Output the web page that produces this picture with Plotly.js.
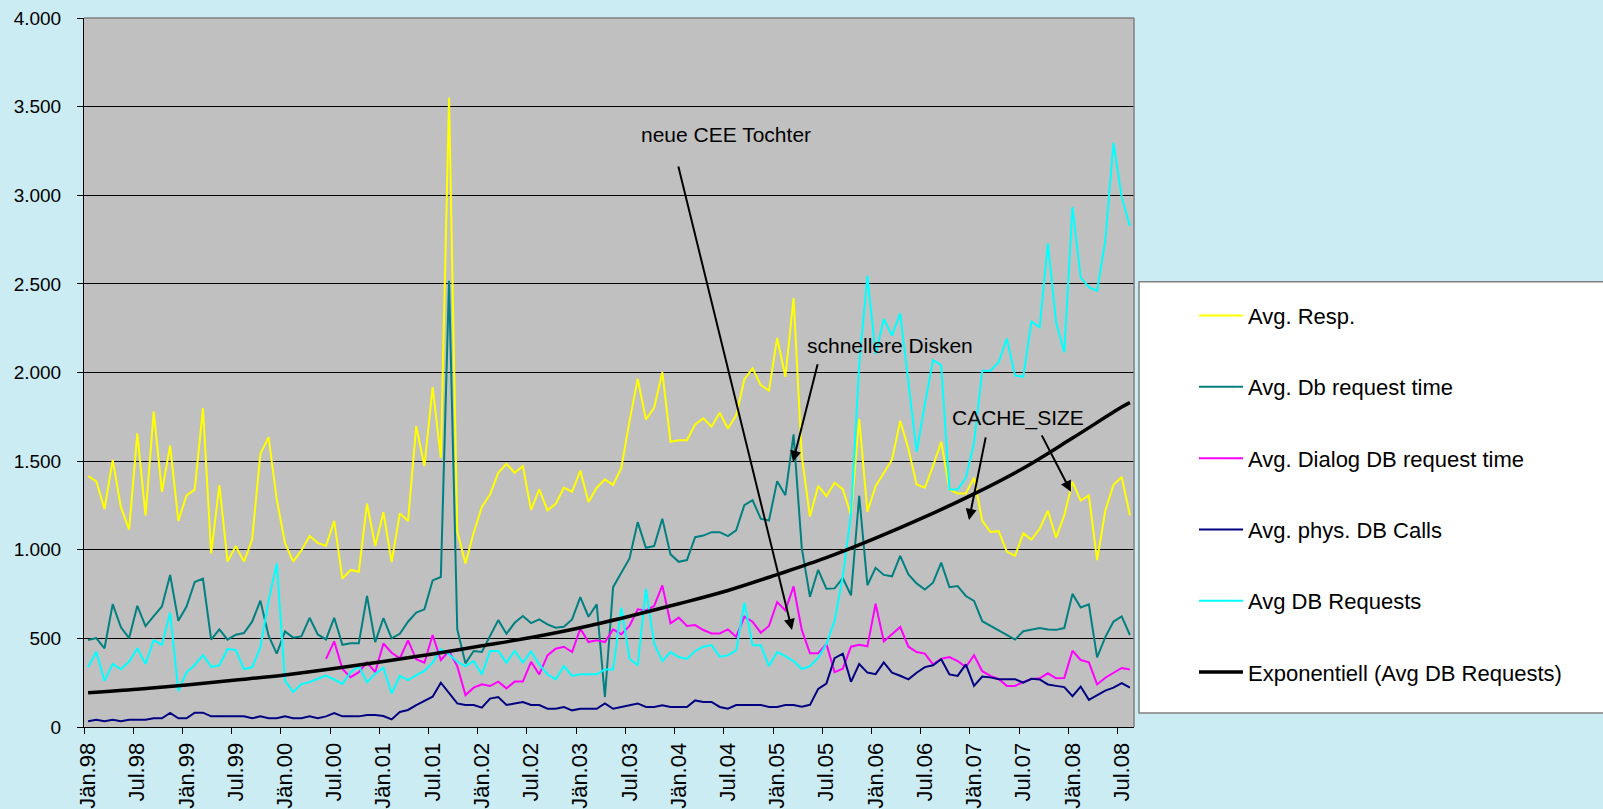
<!DOCTYPE html>
<html><head><meta charset="utf-8">
<script src="https://cdn.plot.ly/plotly-3.0.1.min.js"></script>
<style>html,body{margin:0;padding:0;background:#CCECF3;}#chart{width:1603px;height:809px;}</style>
</head><body><div id="chart"></div>
<script>
// Tick labels (every 6 months, Jan 1998 .. Jul 2008)
const tickLabels = ["Jän.98","Jul.98","Jän.99","Jul.99","Jän.00","Jul.00","Jän.01","Jul.01","Jän.02","Jul.02","Jän.03","Jul.03","Jän.04","Jul.04","Jän.05","Jul.05","Jän.06","Jul.06","Jän.07","Jul.07","Jän.08","Jul.08"];

// Monthly series, Jan 1998 .. Aug 2008 (128 months)
const avgResp = [1416,1386,1230,1507,1240,1114,1657,1193,1779,1326,1588,1163,1307,1339,1798,979,1365,933,1021,933,1058,1541,1635,1283,1039,933,996,1077,1039,1021,1163,837,886,876,1260,1021,1212,930,1205,1162,1697,1472,1917,1519,3550,1105,923,1096,1241,1312,1434,1485,1434,1472,1225,1340,1222,1259,1350,1327,1447,1269,1350,1397,1365,1462,1726,1964,1735,1801,2002,1609,1618,1618,1707,1741,1694,1773,1684,1758,1961,2023,1929,1898,2195,1976,2420,1530,1187,1360,1302,1378,1342,1197,1737,1215,1359,1434,1508,1727,1570,1368,1350,1472,1609,1340,1318,1318,1406,1163,1100,1105,990,966,1092,1057,1118,1220,1068,1194,1383,1277,1306,942,1220,1366,1410,1194];

const avgDbRequestTime = [491,502,444,693,562,502,684,569,625,680,858,599,680,818,837,493,551,493,521,530,594,713,515,414,539,504,511,616,522,494,616,464,472,472,740,479,614,500,526,594,645,664,827,846,2518,551,359,429,423,517,603,526,588,626,586,607,579,560,566,607,733,622,692,169,789,870,951,1156,1011,1021,1175,974,932,942,1071,1080,1099,1099,1077,1109,1252,1280,1175,1165,1387,1308,1651,1009,735,887,780,782,840,743,1304,800,898,858,850,966,861,810,776,814,927,789,795,739,711,597,572,547,520,493,540,548,559,550,548,558,751,674,692,393,507,595,624,519];

const avgDialogDbRequestTime = [null,null,null,null,null,null,null,null,null,null,null,null,null,null,null,null,null,null,null,null,null,null,null,null,null,null,null,null,null,384,483,328,281,309,365,309,471,419,387,489,382,363,519,378,429,344,180,222,241,231,256,218,256,256,368,297,404,442,453,423,555,479,489,479,551,523,570,664,658,682,799,585,617,570,575,547,528,528,551,509,622,594,532,570,705,658,793,548,416,416,468,310,329,453,464,455,695,483,521,564,453,423,414,353,385,395,372,338,405,315,288,271,232,232,254,271,275,303,275,276,430,378,365,240,278,307,333,325];

const avgPhysDbCalls = [32,41,32,41,32,41,41,41,49,49,79,49,49,81,81,60,60,60,60,60,49,60,49,49,60,49,49,60,49,60,79,60,60,60,68,68,62,43,85,96,124,147,171,250,194,133,124,124,109,160,169,124,133,141,124,124,103,103,113,94,103,103,103,133,103,113,122,133,113,113,122,113,113,113,150,141,141,113,103,124,124,124,124,113,113,124,124,115,125,215,245,388,414,255,355,307,298,364,307,289,269,306,338,348,382,297,288,353,232,285,280,270,268,270,250,272,268,240,232,225,174,228,153,180,205,222,248,222];

const avgDbRequests = [337,425,260,356,326,369,444,356,491,463,646,202,309,350,406,339,348,440,435,327,337,449,712,923,262,197,242,253,272,290,268,243,309,343,253,300,334,190,288,265,293,316,363,438,410,368,344,372,297,429,429,363,429,363,426,353,297,269,344,288,297,297,297,325,325,673,385,348,780,470,372,423,395,384,429,453,462,397,404,432,701,461,461,344,423,400,372,327,343,390,468,600,850,1200,2045,2545,2103,2302,2208,2334,1942,1553,1820,2070,2041,1340,1340,1406,1603,2010,2010,2058,2192,1982,1976,2288,2255,2729,2284,2115,2933,2537,2482,2461,2744,3296,2989,2827];

// Exponential trend line (Avg DB Requests) at these months
const trendMonth = [0,6,12,18,24,30,36,42,48,54,60,66,72,78,84,90,96,102,108,114,120,126,127];
const trendValue = [193,213,237,265,294,330,370,412,458,505,560,625,695,770,860,955,1065,1185,1315,1460,1630,1805,1830];

const monthIdx = avgResp.map((_, i) => i);
const tickPos = tickLabels.map((_, k) => k * 6 - 0.5);

function series(name, y, color, width, group) {
  return {type:'scatter', mode:'lines', name:name, x:monthIdx, y:y, legendgroup:group,
    line:{color:color, width:width}, connectgaps:false, hoverinfo:'skip'};
}

const traces = [
  series('Avg. Resp.', avgResp, '#FFFF00', 2, 'g1'),
  series('Avg. Db request time', avgDbRequestTime, '#008080', 2, 'g2'),
  series('Avg. Dialog DB request time', avgDialogDbRequestTime, '#FF00FF', 2, 'g3'),
  series('Avg. phys. DB Calls', avgPhysDbCalls, '#000080', 2, 'g4'),
  series('Avg DB Requests', avgDbRequests, '#00FFFF', 2, 'g5'),
  {type:'scatter', mode:'lines', name:'Exponentiell (Avg DB Requests)', x:trendMonth, y:trendValue,
   legendgroup:'g6', line:{color:'#000000', width:3.5, shape:'spline', smoothing:1}, hoverinfo:'skip'}
];

const PL = 84, PR = 1134, PT = 18.4, PB = 727;
const PW = PR - PL, PH = PB - PT;
const px = v => (v - PL) / PW;
const py = v => (PB - v) / PH;

function arrow(tx, ty, sx, sy) {
  return {xref:'paper', yref:'paper', x:px(tx), y:py(ty), ax:sx - tx, ay:sy - ty,
    axref:'pixel', ayref:'pixel', text:'', showarrow:true, arrowhead:2, arrowsize:1.1,
    arrowwidth:2, arrowcolor:'#000000'};
}
function label(t, cx, cy) {
  return {xref:'paper', yref:'paper', x:px(cx), y:py(cy), xanchor:'center', yanchor:'middle',
    text:t, showarrow:false, font:{size:21, color:'#000000'}};
}

const layout = {
  width:1603, height:809,
  paper_bgcolor:'#CCECF3', plot_bgcolor:'#C0C0C0',
  margin:{l:PL, r:1603 - PR, t:PT, b:809 - PB, pad:0},
  separators:',.',
  font:{family:'"Liberation Sans", Arial, sans-serif', color:'#000000'},
  showlegend:true,
  xaxis:{range:[-0.5,127.5], tickmode:'array', tickvals:tickPos, ticktext:tickLabels,
    tickangle:-90, ticks:'outside', ticklen:6, tickwidth:1, tickcolor:'#000000',
    ticklabelshift:4, showgrid:false, zeroline:false, showline:true, linecolor:'#000000',
    linewidth:1, tickfont:{size:22, color:'#000000'}, fixedrange:true},
  yaxis:{range:[0,4000], tickmode:'linear', tick0:0, dtick:500, tickformat:',d',
    ticks:'outside', ticklen:6, tickwidth:1, tickcolor:'#000000', ticklabelstandoff:12,
    showgrid:true, gridcolor:'#000000', gridwidth:1, zeroline:false, showline:true,
    linecolor:'#000000', linewidth:1, tickfont:{size:19, color:'#000000'}, fixedrange:true},
  legend:{x:px(1194), y:py(295), xanchor:'left', yanchor:'top', bgcolor:'rgba(0,0,0,0)',
    borderwidth:0, traceorder:'grouped', tracegroupgap:39.7, font:{size:22, color:'#000000'},
    itemwidth:44},
  shapes:[
    {type:'rect', xref:'paper', yref:'paper', x0:px(1139), x1:px(1620), y0:py(713), y1:py(282),
     fillcolor:'#FFFFFF', line:{color:'#808080', width:1.5}, layer:'above'},
    {type:'line', xref:'paper', yref:'paper', x0:0, x1:1, y0:1, y1:1, line:{color:'#808080', width:1.5}, layer:'above'},
    {type:'line', xref:'paper', yref:'paper', x0:1, x1:1, y0:0, y1:1, line:{color:'#808080', width:1.5}, layer:'above'}
  ],
  annotations:[
    label('neue CEE Tochter', 726, 135),
    label('schnellere Disken', 890, 346),
    label('CACHE_SIZE', 1018, 418),
    arrow(792, 630, 678, 165),
    arrow(793, 462, 818, 363),
    arrow(969, 520, 986, 436),
    arrow(1071, 492, 1041, 434)
  ]
};

Plotly.newPlot('chart', traces, layout, {displayModeBar:false, staticPlot:true});
</script></body></html>
